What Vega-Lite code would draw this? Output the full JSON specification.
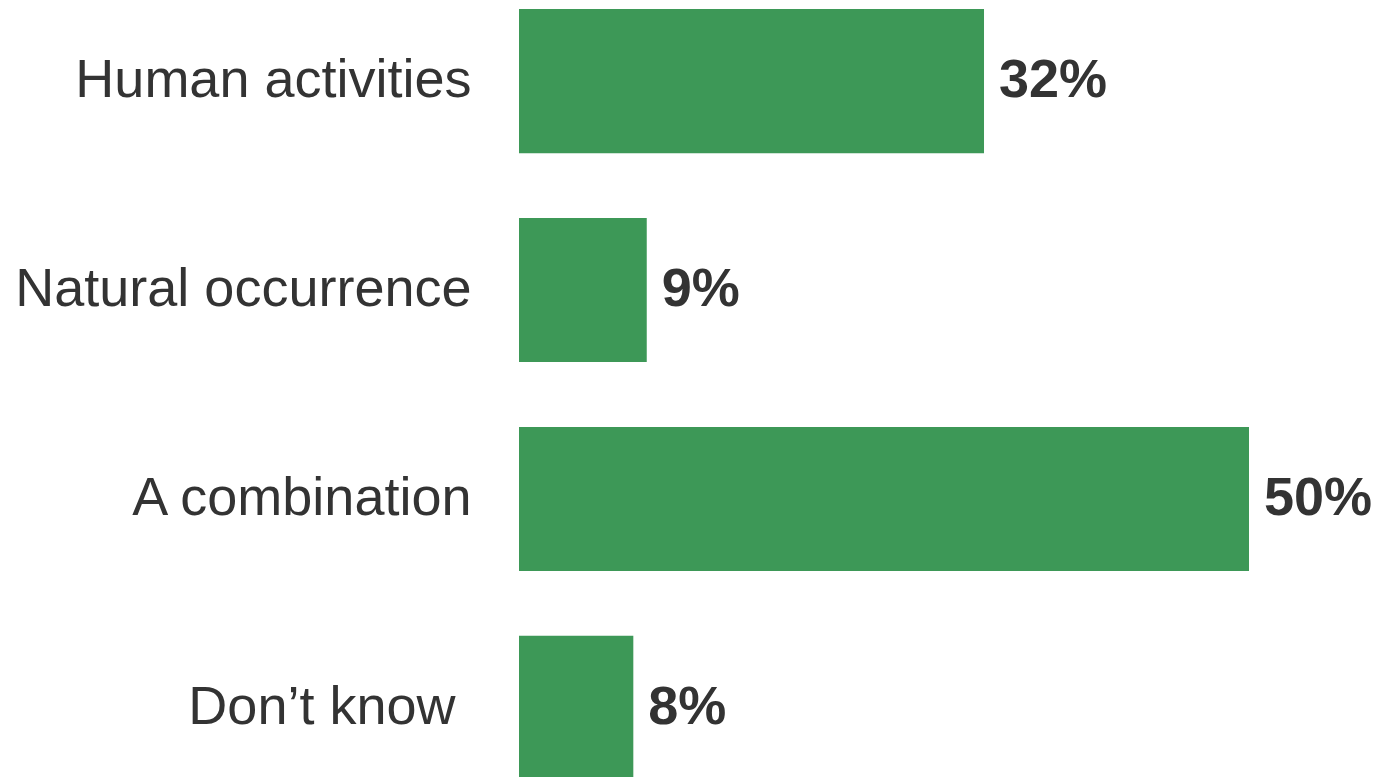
{
  "$schema": "https://vega.github.io/schema/vega-lite/v6.json",
  "autosize": {"type": "none"},
  "width": 730,
  "height": 771,
  "padding": {"left": 519, "top": 9, "right": 130, "bottom": 0},
  "background": "white",
  "data": {
    "values": [
      {"answer": "Human activities", "pct": 0.3185},
      {"answer": "Natural occurrence", "pct": 0.0875},
      {"answer": "A combination", "pct": 0.50},
      {"answer": "Don’t know", "pct": 0.0783}
    ]
  },
  "encoding": {
    "y": {
      "field": "answer",
      "type": "nominal",
      "sort": null,
      "scale": {"paddingInner": 0.31, "paddingOuter": 0},
      "axis": {
        "title": null,
        "domain": false,
        "ticks": false,
        "labelFont": "Liberation Sans",
        "labelFontSize": 54,
        "labelColor": "#333333",
        "labelPadding": {"condition": {"test": "datum.value === 'Don’t know'", "value": 64}, "value": 48},
        "labelLimit": 0
      }
    },
    "x": {
      "field": "pct",
      "type": "quantitative",
      "scale": {"domain": [0, 0.5], "nice": false},
      "axis": null
    }
  },
  "layer": [
    {"mark": {"type": "bar", "color": "#3d9857"}},
    {
      "mark": {
        "type": "text",
        "align": "left",
        "baseline": "middle",
        "dx": 15,
        "font": "Liberation Sans",
        "fontSize": 54,
        "fontWeight": "bold",
        "color": "#333333"
      },
      "encoding": {"text": {"field": "pct", "type": "quantitative", "format": ".0%"}}
    }
  ],
  "config": {"view": {"stroke": null}}
}
